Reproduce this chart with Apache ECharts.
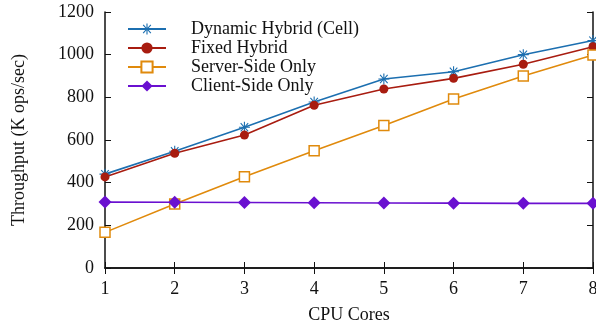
<!DOCTYPE html>
<html>
<head>
<meta charset="utf-8">
<script src="https://cdn.jsdelivr.net/npm/echarts@6/dist/echarts.min.js"></script>
<style>
  html, body { margin: 0; padding: 0; background: #fff; }
  #chart { width: 596px; height: 326px; }
</style>
</head>
<body>
<div id="chart"></div>
<script>
// data
var cores = [1, 2, 3, 4, 5, 6, 7, 8];
var dynamicHybrid = [440, 547, 660, 778, 886, 920, 1000, 1066];
var fixedHybrid = [427, 538, 623, 763, 839, 889, 955, 1037];
var serverSide = [167, 300, 428, 550, 668, 792, 900, 998];
var clientSide = [309, 308, 307, 306, 305, 304, 303, 303];
var seriesNames = ['Dynamic Hybrid (Cell)', 'Fixed Hybrid', 'Server-Side Only', 'Client-Side Only'];

function pairs(arr) {
  return arr.map(function (v, i) { return [cores[i], v]; });
}

var font = 'Liberation Serif';
var asterisk = 'path://M-1,-10L1,-10L1,-2.4L6.1,-8.1L7.6,-6.8L2.3,-1L10,-1L10,1L2.3,1L7.6,6.8L6.1,8.1L1,2.4L1,10L-1,10L-1,2.4L-6.1,8.1L-7.6,6.8L-2.3,1L-10,1L-10,-1L-2.3,-1L-7.6,-6.8L-6.1,-8.1L-1,-2.4Z';

var myChart = echarts.init(document.getElementById('chart'));

function mkLine(name, data, color, symbol, size, fill) {
  return {
    name: name,
    type: 'line',
    data: pairs(data),
    symbol: symbol,
    symbolSize: size,
    showAllSymbol: true,
    lineStyle: { color: color, width: 1.6 },
    itemStyle: { color: fill || color, borderColor: color, borderWidth: fill ? 1.5 : 0 },
    emphasis: { disabled: true },
    animation: false
  };
}

myChart.setOption({
  textStyle: { fontFamily: font, color: '#111' },
  grid: { left: 105, right: 3, top: 12, bottom: 58, containLabel: false, outerBoundsMode: 'none' },
  legend: {
    data: seriesNames,
    orient: 'vertical',
    left: 127,
    top: 20,
    padding: 0,
    itemWidth: 38,
    itemHeight: 14,
    itemGap: 1,
    textStyle: { fontFamily: font, fontSize: 18, color: '#111', padding: [0, 0, 0, 20], lineHeight: 18 }
  },
  xAxis: [{
    type: 'value',
    min: 1, max: 8, interval: 1,
    name: 'CPU Cores',
    nameLocation: 'middle',
    nameGap: 38,
    nameTextStyle: { fontFamily: font, fontSize: 18, color: '#111' },
    axisLine: { lineStyle: { color: '#111', width: 1.5 } },
    axisTick: { inside: true, length: 6, lineStyle: { color: '#111' } },
    axisLabel: { fontFamily: font, fontSize: 18, color: '#111', margin: 12 },
    splitLine: { show: false }
  }, {
    type: 'value', position: 'top',
    min: 1, max: 8, interval: 1,
    axisLine: { lineStyle: { color: '#111', width: 1.5 } },
    axisTick: { inside: true, length: 6, lineStyle: { color: '#111' } },
    axisLabel: { show: false },
    splitLine: { show: false }
  }],
  yAxis: [{
    type: 'value',
    min: 0, max: 1200, interval: 200,
    name: 'Throughput (K ops/sec)',
    nameLocation: 'middle',
    nameGap: 77,
    nameTextStyle: { fontFamily: font, fontSize: 18, color: '#111' },
    axisLine: { show: true, lineStyle: { color: '#111', width: 1.5 } },
    axisTick: { show: true, inside: true, length: 6, lineStyle: { color: '#111' } },
    axisLabel: { fontFamily: font, fontSize: 18, color: '#111', margin: 11, formatter: function (v) { return String(v); } },
    splitLine: { show: false }
  }, {
    type: 'value', position: 'right',
    min: 0, max: 1200, interval: 200,
    axisLine: { show: true, lineStyle: { color: '#111', width: 1.5 } },
    axisTick: { show: true, inside: true, length: 6, lineStyle: { color: '#111' } },
    axisLabel: { show: false },
    splitLine: { show: false }
  }],
  series: [
    mkLine(seriesNames[0], dynamicHybrid, '#1c6fb0', asterisk, 11),
    mkLine(seriesNames[1], fixedHybrid, '#a81c10', 'circle', 9),
    mkLine(seriesNames[2], serverSide, '#e08a0c', 'rect', 10, '#fff'),
    mkLine(seriesNames[3], clientSide, '#6a10d0', 'diamond', 13)
  ]
});
</script>
</body>
</html>
